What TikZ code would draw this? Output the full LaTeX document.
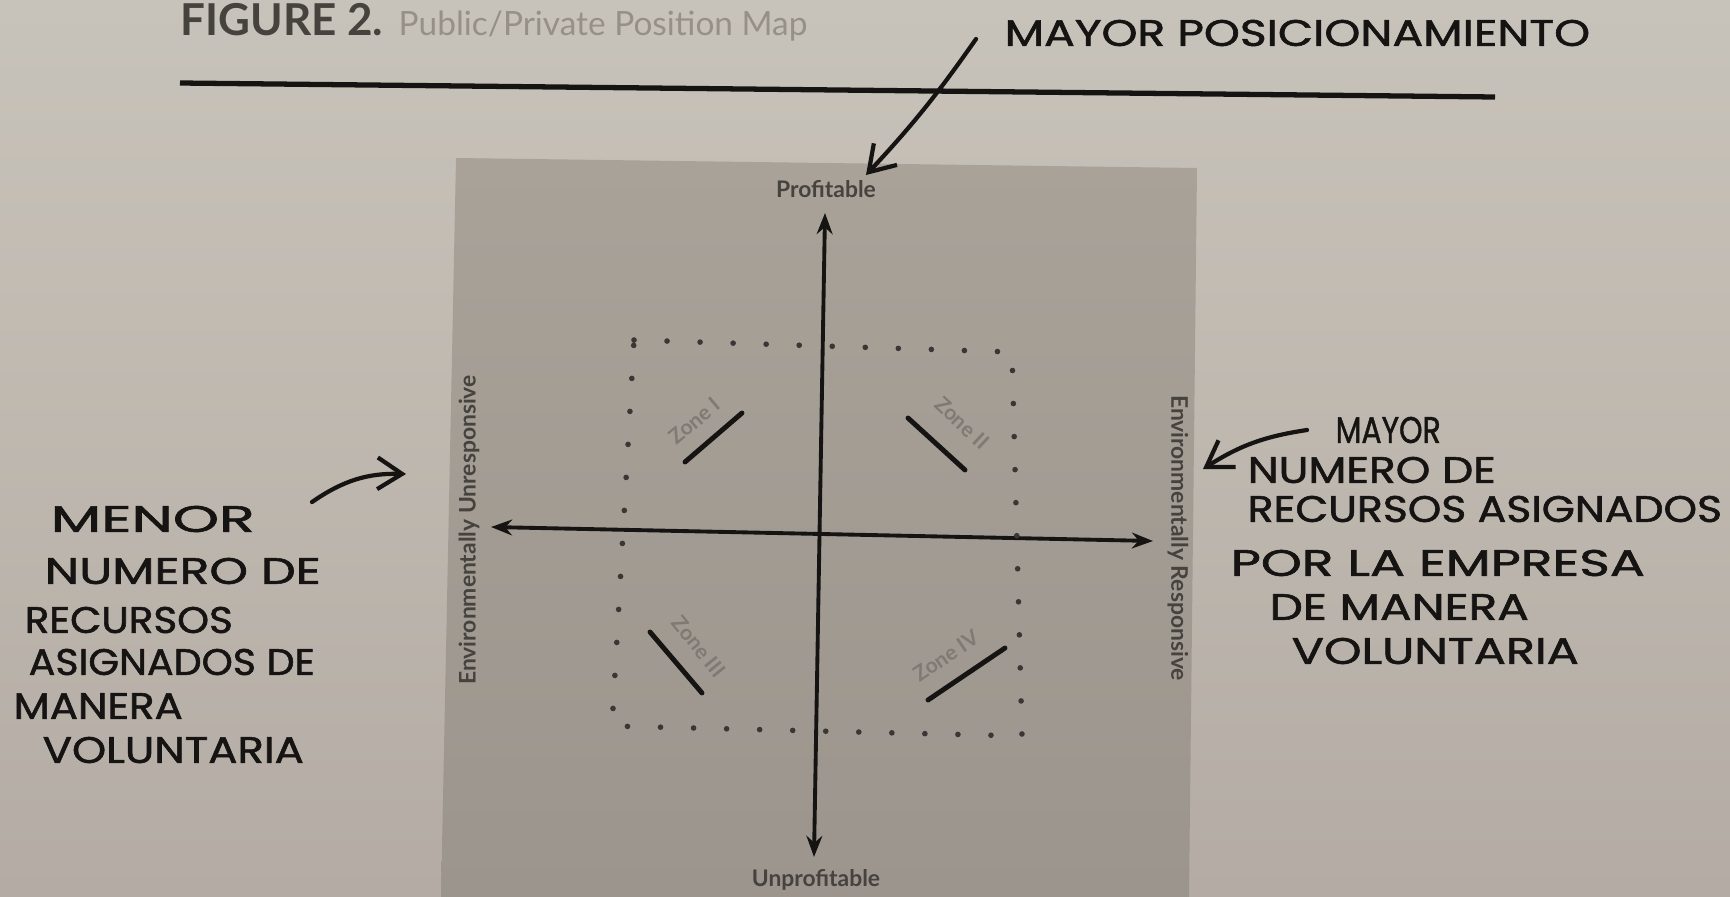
\documentclass[tikz,border=0pt]{standalone}
\usepackage{fontspec}
\usepackage{graphicx}
\setmainfont{Lato}
\newfontfamily\handfont{Poppins}[BoldFont=Poppins, BoldFeatures={FakeBold=1.4}]
\usetikzlibrary{arrows.meta}
\definecolor{papertop}{RGB}{200,195,186}
\definecolor{paperbot}{RGB}{180,172,164}
\definecolor{paneltop}{RGB}{168,162,153}
\definecolor{panelbot}{RGB}{156,149,141}
\definecolor{ink}{RGB}{22,20,19}
\definecolor{printc}{RGB}{70,66,62}
\definecolor{lightprint}{RGB}{128,122,116}
\definecolor{faintprint}{RGB}{150,144,137}
\newcommand\hw[2]{\resizebox{#1cm}{\height}{#2}}
\tikzset{
  hand/.style={font=\handfont\bfseries\fontsize{10.5}{12}\selectfont, text=ink, inner sep=0pt, anchor=west},
  lbl/.style={font=\bfseries\fontsize{6.5}{7}\selectfont, text=printc, inner sep=1pt},
  zonelbl/.style={font=\bfseries\fontsize{6}{7}\selectfont, text=lightprint, inner sep=0.5pt},
  axis/.style={line width=1.1pt, draw=ink, {Stealth[length=6pt,width=4.5pt]}-{Stealth[length=6pt,width=4.5pt]}},
  zoneline/.style={line width=1.4pt, draw=ink, line cap=round},
  dotted square/.style={line width=1.6pt, draw=ink!85, line cap=round, dash pattern=on 0pt off 9.4pt},
  handarrow/.style={line width=1.2pt, draw=ink, line cap=round, -{Straight Barb[length=7pt,width=9pt,line width=1.2pt]}},
}
\begin{document}
\begin{tikzpicture}[x=0.01cm,y=-0.01cm]
\useasboundingbox (0,0) rectangle (1730,897);
\shade[top color=papertop, bottom color=paperbot] (0,0) rectangle (1730,897);
\shade[top color=paneltop, bottom color=panelbot] (456,158) -- (1197,168) -- (1189,897) -- (441,897) -- cycle;

% title and rule
\node[anchor=west, inner sep=0pt, font=\bfseries\fontsize{12.5}{14}\selectfont, text=printc] (fig) at (180,20) {FIGURE 2.};
\node[anchor=base west, inner sep=0pt, font=\fontsize{9.5}{11}\selectfont, text=faintprint] (cap) at ([xshift=0.14cm]fig.base east) {Public/Private Position Map};
\coordinate (ruleL) at (180,83);
\coordinate (ruleR) at (1495,97);
\draw[line width=1.5pt, draw=ink] (ruleL) -- (ruleR);

% axis labels
\node[lbl] (prof) at (826,189) {Profitable};
\node[lbl] (unprof) at (816,880) {Unprofitable};
\node[lbl, rotate=90] (unresp) at (469,530) {Environmentally Unresponsive};
\node[lbl, rotate=-90] (resp) at (1178,538) {Environmentally Responsive};

% axes
\coordinate (vtop) at (825,213);
\coordinate (vbot) at (814,857);
\coordinate (hleft) at (491,527);
\coordinate (hright) at (1153,541);
\draw[axis] (vtop) -- (vbot);
\draw[axis] (hleft) -- (hright);

% dotted square
\coordinate (dTL) at (634,340);
\coordinate (dTR) at (1012,352);
\coordinate (dBR) at (1022,736);
\coordinate (dBL) at (612,726);
\draw[dotted square] (dTL) -- (dTR) -- (dBR) -- (dBL) -- cycle;

% zones
\node[zonelbl, rotate=40] (z1) at (694,421) {Zone I};
\coordinate (z1a) at (685,462); \coordinate (z1b) at (742,413);
\draw[zoneline] (z1a) -- (z1b);
\node[zonelbl, rotate=-43] (z2) at (962,423) {Zone II};
\coordinate (z2a) at (908,418); \coordinate (z2b) at (965,470);
\draw[zoneline] (z2a) -- (z2b);
\node[zonelbl, rotate=-51] (z3) at (699,647) {Zone III};
\coordinate (z3a) at (650,632); \coordinate (z3b) at (702,693);
\draw[zoneline] (z3a) -- (z3b);
\node[zonelbl, rotate=34] (z4) at (946,656) {Zone IV};
\coordinate (z4a) at (928,700); \coordinate (z4b) at (1005,648);
\draw[zoneline] (z4a) -- (z4b);

% handwriting top
\node[hand] (mp) at (1004,33) {\hw{5.85}{MAYOR POSICIONAMIENTO}};
\coordinate (mpstart) at (976,39);
\coordinate (mpend) at (866,175);
\draw[handarrow] (mpstart) to[bend left=4] (mpend);

% handwriting left
\node[hand] (l1) at (50,519) {\hw{2.04}{MENOR}};
\node[hand] (l2) at (44,571) {\hw{2.76}{NUMERO DE}};
\node[hand] (l3) at (24,620) {\hw{2.08}{RECURSOS}};
\node[hand] (l4) at (28,662) {\hw{2.86}{ASIGNADOS DE}};
\node[hand] (l5) at (13,706) {\hw{1.69}{MANERA}};
\node[hand] (l6) at (42,750) {\hw{2.61}{VOLUNTARIA}};
\coordinate (lstart) at (312,502);
\coordinate (lend) at (406,474);
\draw[handarrow] (lstart) to[bend left=18] (lend);

% handwriting right
\node[hand] (r1) at (1335,430) {\hw{1.05}{MAYOR}};
\node[hand] (r2) at (1247,470) {\hw{2.48}{NUMERO DE}};
\node[hand] (r3) at (1247,509) {\hw{4.74}{RECURSOS ASIGNADOS}};
\node[hand] (r4) at (1230,563) {\hw{4.14}{POR LA EMPRESA}};
\node[hand] (r5) at (1269,607) {\hw{2.59}{DE MANERA}};
\node[hand] (r6) at (1291,651) {\hw{2.87}{VOLUNTARIA}};
\coordinate (rstart) at (1307,430);
\coordinate (rend) at (1203,469);
\draw[handarrow] (rstart) to[bend right=12] (rend);
\end{tikzpicture}
\end{document}
